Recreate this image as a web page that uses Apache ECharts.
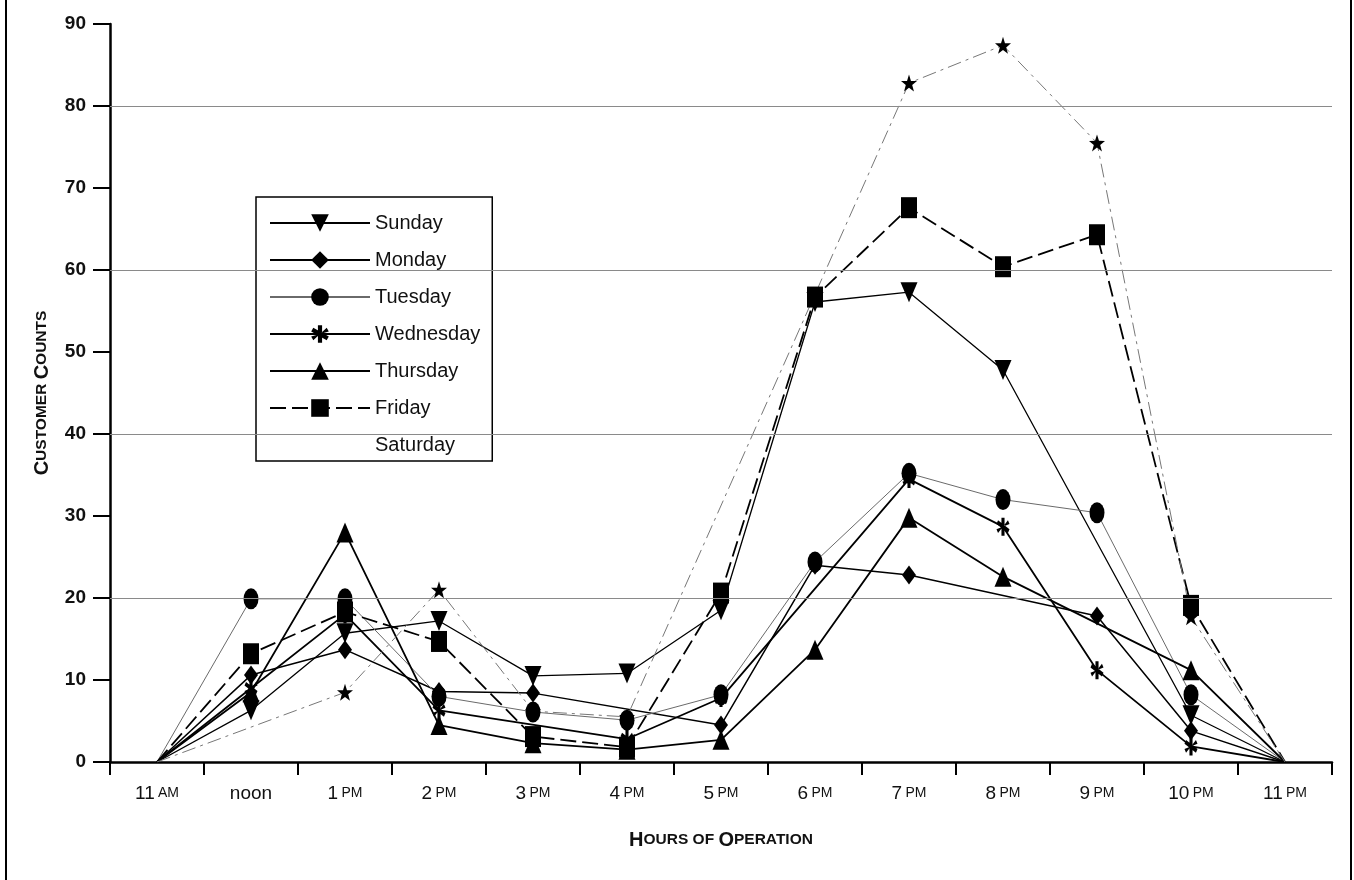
<!DOCTYPE html>
<html><head><meta charset="utf-8">
<script src="https://cdn.jsdelivr.net/npm/echarts@6/dist/echarts.min.js"></script>
<style>html,body{margin:0;padding:0;background:#fff}#c{width:1354px;height:880px}</style>
</head><body><div id="c"></div>
<script>
const categories = ['11 AM','noon','1 PM','2 PM','3 PM','4 PM','5 PM','6 PM','7 PM','8 PM','9 PM','10 PM','11 PM'];
const sunday    = [0, 6.3, 15.7, 17.2, 10.5, 10.8, 18.5, 56.1, 57.3, 47.8, null, 5.7, 0];
const monday    = [0, 10.6, 13.7, 8.6, 8.4, null, 4.5, 24.0, 22.8, null, 17.8, 3.8, 0];
const tuesday   = [0, 19.9, 19.9, 8.0, 6.1, 5.1, 8.2, 24.4, 35.2, 32.0, 30.4, 8.2, 0];
const wednesday = [0, 9.0, 18.0, 6.3, null, 2.8, 7.8, null, 34.5, 28.7, 11.2, 1.9, 0];
const thursday  = [0, 8.5, 28.0, 4.5, 2.3, 1.5, 2.7, 13.7, 29.8, 22.6, null, 11.2, 0];
const friday    = [0, 13.2, 18.3, 14.7, 3.1, 1.8, 20.6, 56.7, 67.6, 60.4, 64.3, 19.1, 0];
const saturday  = [0, null, 8.5, 21.0, 6.2, 5.5, null, null, 82.8, 87.4, 75.5, 17.7, 0];
const gridValues = [20, 40, 60, 80];
const yMin = 0, yMax = 90, yStep = 10;

const FF = '"Liberation Sans", Arial, Helvetica, sans-serif';
const ASTERISK = 'path://M1.4,-6L-1.4,-6L-1.4,6L1.4,6Z M4.496,4.212L5.896,1.788L-4.496,-4.212L-5.896,-1.788Z M-5.896,1.788L-4.496,4.212L4.496,-4.212L5.896,-1.788Z';
const STAR = 'path://M0,-10L2.35,-3.24L9.51,-3.09L3.8,1.24L5.88,8.09L0,4L-5.88,8.09L-3.8,1.24L-9.51,-3.09L-2.35,-3.24Z';
const lastIdx = categories.length - 1;

// end points (closing/opening zero) are drawn without a marker
function withBareEnds(values) {
  return values.map((v, i) => (i === 0 || i === lastIdx) ? { value: v, symbol: 'none' } : v);
}

function mk(name, values, symbol, size, lineStyle, extra) {
  return Object.assign({
    name, type: 'line', data: withBareEnds(values),
    symbol, symbolSize: size, connectNulls: true,
    showAllSymbol: true,
    itemStyle: { color: '#000', borderWidth: 0 },
    lineStyle: Object.assign({ color: '#000', width: 1.5, type: 'solid' }, lineStyle),
    emphasis: { disabled: true }
  }, extra || {});
}

const series = [
  mk('Sunday', sunday, 'triangle', [17, 20], { width: 1.3 }, {
    symbolRotate: 180,
    markLine: {
      silent: true, symbol: ['none', 'none'], label: { show: false },
      lineStyle: { color: '#8a8a8a', width: 1.2, type: 'solid' },
      data: gridValues.map(v => ({ yAxis: v }))
    }
  }),
  mk('Monday', monday, 'diamond', [14, 19], { width: 1.5 }),
  mk('Tuesday', tuesday, 'circle', [15, 21], { width: 1, color: '#6a6a6a' }),
  mk('Wednesday', wednesday, ASTERISK, [13, 18], { width: 1.8 }),
  mk('Thursday', thursday, 'triangle', [17, 20], { width: 1.8 }),
  mk('Friday', friday, 'rect', [16, 21], { width: 1.8, type: [16, 6] }),
  mk('Saturday', saturday, STAR, [16, 17], { width: 1, color: '#777', type: [14, 5, 3, 5] })
];

const chart = echarts.init(document.getElementById('c'), null, { renderer: 'canvas' });
chart.setOption({
  animation: false,
  backgroundColor: '#fff',
  textStyle: { fontFamily: FF, color: '#111' },
  grid: { left: 110, right: 22, top: 24, bottom: 118, containLabel: false },
  legend: {
    orient: 'vertical', left: 256, top: 197,
    padding: [16, 12, 6, 13],
    itemWidth: 100, itemHeight: 22, itemGap: 17,
    borderColor: '#000', borderWidth: 1.5, backgroundColor: '#fff',
    textStyle: { fontSize: 20, color: '#111', fontFamily: FF },
    selectedMode: false,
    data: ['Sunday', 'Monday', 'Tuesday', 'Wednesday', 'Thursday', 'Friday',
      { name: 'Saturday', itemStyle: { opacity: 0 }, lineStyle: { opacity: 0 } }]
  },
  xAxis: {
    type: 'category', data: categories, boundaryGap: true,
    axisLine: { lineStyle: { color: '#000', width: 2.5 } },
    axisTick: { show: true, length: 13, lineStyle: { color: '#000', width: 2 } },
    axisLabel: {
      margin: 22, interval: 0,
      formatter: v => { const m = v.match(/^(\d+) (AM|PM)$/); return m ? '{n|' + m[1] + '} {s|' + m[2] + '}' : '{n|' + v + '}'; },
      rich: { n: { fontSize: 19, color: '#111', fontFamily: FF }, s: { fontSize: 14, color: '#111', fontFamily: FF } }
    },
    splitLine: { show: false },
    name: '{a|H}{b|OURS OF }{a|O}{b|PERATION}', nameLocation: 'middle', nameGap: 68,
    nameTextStyle: { rich: { a: { fontSize: 20, fontWeight: 'bold', fontFamily: FF, color: '#111' }, b: { fontSize: 15.5, fontWeight: 'bold', fontFamily: FF, color: '#111' } } }
  },
  yAxis: {
    type: 'value', min: yMin, max: yMax, interval: yStep,
    axisLine: { show: true, lineStyle: { color: '#000', width: 2.5 } },
    axisTick: { show: true, length: 17, lineStyle: { color: '#000', width: 2 } },
    axisLabel: { margin: 24, fontSize: 19, fontWeight: 'bold', color: '#111', fontFamily: FF },
    splitLine: { show: false },
    name: '{a|C}{b|USTOMER }{a|C}{b|OUNTS}', nameLocation: 'middle', nameRotate: 90, nameGap: 58,
    nameTextStyle: { rich: { a: { fontSize: 20, fontWeight: 'bold', fontFamily: FF, color: '#111' }, b: { fontSize: 15.5, fontWeight: 'bold', fontFamily: FF, color: '#111' } } }
  },
  graphic: [
    { type: 'line', shape: { x1: 6, y1: 0, x2: 6, y2: 880 }, style: { stroke: '#000', lineWidth: 2 } },
    { type: 'line', shape: { x1: 1351, y1: 0, x2: 1351, y2: 880 }, style: { stroke: '#000', lineWidth: 2 } }
  ],
  series
});
</script></body></html>
